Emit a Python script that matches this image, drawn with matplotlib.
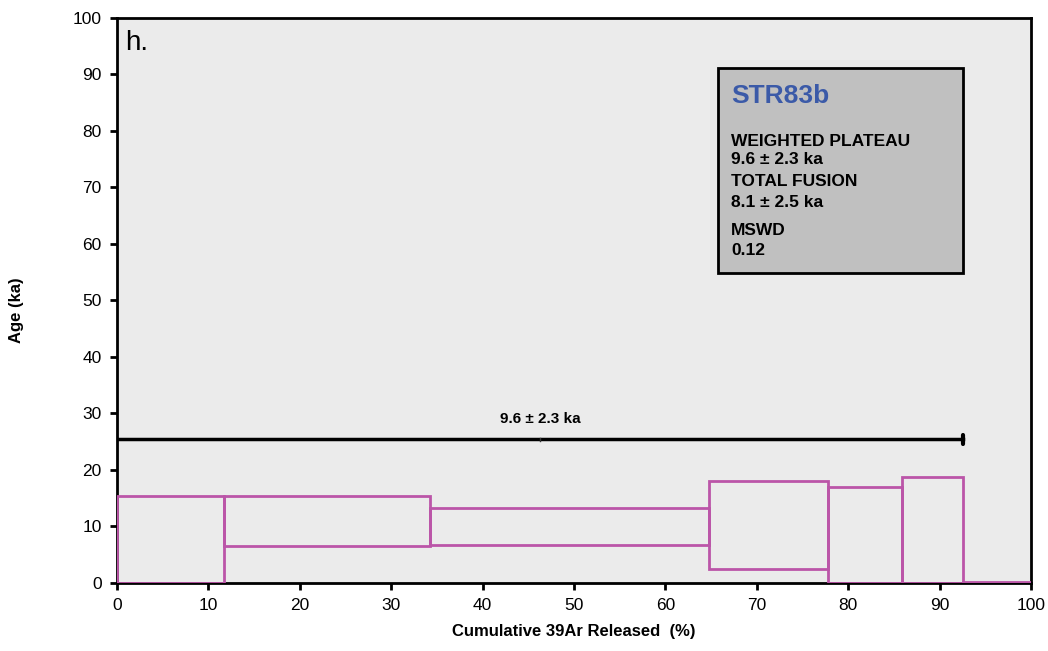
import matplotlib.pyplot as plt
from matplotlib.patches import Rectangle

plt.rcParams['font.family'] = ['Liberation Sans', 'DejaVu Sans']

# Heating steps: cumulative 39Ar boundaries and age envelope (ka)
step_start = [0.0, 11.7, 34.2, 64.8, 77.8, 85.9, 92.6]
step_end = [11.7, 34.2, 64.8, 77.8, 85.9, 92.6, 100.0]
age_top = [15.4, 15.4, 13.3, 18.0, 16.9, 18.8, 0.2]
age_bottom = [0.0, 6.5, 6.8, 2.5, 0.0, 0.0, 0.0]

plateau_start = 0.0
plateau_end = 92.6
plateau_line = 25.4
plateau_label = "9.6 ± 2.3 ka"

sample = "STR83b"
info_lines = ["WEIGHTED PLATEAU", "9.6 ± 2.3 ka", "TOTAL FUSION", "8.1 ± 2.5 ka",
              "MSWD", "0.12"]
info_y = [78.05, 74.9, 71.0, 67.4, 62.3, 58.9]

fig = plt.figure(figsize=(10.48, 6.51), dpi=100)
ax = fig.add_axes([0.1116, 0.1045, 0.8722, 0.8679])
ax.set_facecolor("#ebebeb")

step_color = "#bb55a8"
for x0, x1, lo, hi in zip(step_start, step_end, age_bottom, age_top):
    ax.add_patch(Rectangle((x0, lo), x1 - x0, hi - lo, fill=False,
                           edgecolor=step_color, linewidth=2, zorder=3))

# plateau bar
ax.plot([plateau_start, plateau_end], [plateau_line, plateau_line],
        color="black", linewidth=2.5, zorder=4)
ax.plot([plateau_end, plateau_end], [plateau_line - 0.8, plateau_line + 0.8],
        color="black", linewidth=3, solid_capstyle="round", zorder=4)
mid = (plateau_start + plateau_end) / 2
ax.plot([mid, mid], [plateau_line - 0.3, plateau_line + 0.3],
        color="#333333", linewidth=1, zorder=5)
ax.text(mid, plateau_line + 2.3, plateau_label, ha="center", va="bottom",
        fontsize=11, fontweight="bold")

ax.set_xlim(0, 100)
ax.set_ylim(0, 100)
ax.set_xticks(range(0, 101, 10))
ax.set_yticks(range(0, 101, 10))
ax.tick_params(direction="out", length=5, width=2, labelsize=12.5, pad=6)
for sp in ax.spines.values():
    sp.set_linewidth(2)

ax.set_xlabel("Cumulative 39Ar Released  (%)", fontsize=12, fontweight="bold", labelpad=8)
ax.set_ylabel("Age (ka)", fontsize=12, fontweight="bold")
ax.yaxis.set_label_coords(-0.102, 0.483)

ax.text(0.9, 95.6, "h.", fontsize=20, va="center", ha="left")

# summary box
ax.add_patch(Rectangle((65.8, 54.9), 26.8, 36.2, facecolor="#c0c0c0",
                       edgecolor="black", linewidth=2, zorder=5))
ax.text(67.2, 86.2, sample, color="#3b5aa8", fontsize=19, fontweight="bold",
        va="center", zorder=6)
for line, y in zip(info_lines, info_y):
    ax.text(67.2, y, line, fontsize=12.5, fontweight="bold", va="center", zorder=6)

fig.savefig("out.png", dpi=100)
